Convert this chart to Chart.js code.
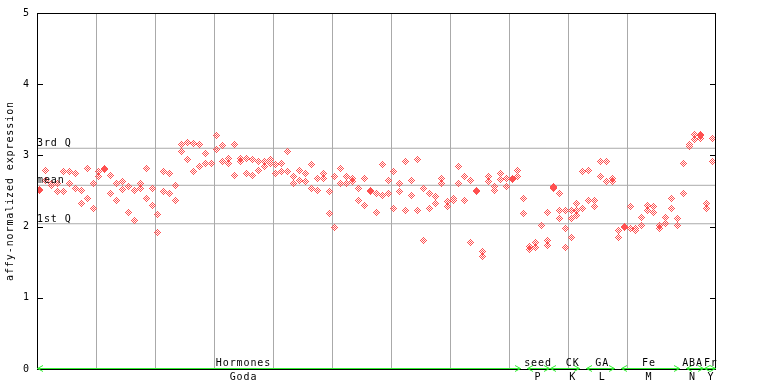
<!DOCTYPE html>
<html>
<head>
<meta charset="utf-8">
<script src="https://cdn.jsdelivr.net/npm/chart.js@4"></script>
<style>
  body { margin: 0; background: #fff; }
  canvas { display: block; }
</style>
</head>
<body>
<canvas id="chart" width="768" height="384"></canvas>
<script>
// 컬럼(샘플)별 반복 측정값
const rep1 = [2.52,2.79,2.61,2.61,2.78,2.77,2.74,2.51,2.82,2.61,
  2.77,2.81,2.72,2.60,2.64,2.56,2.51,2.61,2.81,2.53,
  2.17,2.77,2.74,2.58,3.16,3.18,3.17,3.15,3.03,2.89,
  3.28,3.14,2.96,3.16,2.95,2.96,2.94,2.92,2.92,2.94,
  2.87,2.88,3.05,2.71,2.79,2.74,2.87,2.68,2.74,2.50,
  2.71,2.82,2.70,2.68,2.53,2.67,2.51,2.47,2.87,2.65,
  2.77,2.61,2.92,2.65,2.94,2.54,2.47,2.42,2.68,2.35,
  2.40,2.84,2.70,2.65,2.51,1.65,2.71,2.56,2.74,2.68,
  2.67,2.79,2.40,1.72,1.77,2.01,2.20,2.56,2.47,2.22,
  2.23,2.32,2.77,2.79,2.37,2.91,2.92,2.68,1.94,2.00,
  2.28,1.97,2.13,2.30,2.28,2.02,2.13,2.40,2.11,2.88,
  3.16,3.30,3.29,2.33,3.24];
const rep2 = [2.51,2.65,2.58,2.49,2.49,2.61,2.54,2.33,2.39,2.26,
  2.71,2.80,2.47,2.37,2.52,2.20,2.09,2.54,2.40,2.30,
  1.92,2.49,2.47,2.37,3.05,2.94,2.78,2.84,2.89,2.88,
  3.08,2.91,2.88,2.72,2.92,2.75,2.72,2.79,2.84,2.88,
  2.75,2.77,2.77,2.60,2.65,2.63,2.53,2.51,2.67,2.19,
  1.99,2.61,2.60,2.63,2.36,2.29,2.49,2.20,2.43,2.46,
  2.26,2.49,2.23,2.44,2.22,1.80,2.25,2.32,2.61,2.28,
  2.37,2.60,2.37,1.78,2.49,1.58,2.64,2.51,2.66,2.56,
  2.66,2.71,2.19,1.68,1.70,null,1.80,2.55,2.22,1.97,
  2.12,2.22,2.25,2.36,2.28,2.71,2.63,2.63,1.84,1.99,
  1.98,1.94,2.02,2.22,2.20,1.97,2.04,2.26,2.02,2.47,
  3.13,3.22,3.28,2.26,2.91];
// 세 번째 반복이 있는 컬럼
const extraCols = [34, 70, 86, 87, 88, 89, 90, 91, 112];
const extraVals = [2.91, 2.36, 1.74, 2.53, 2.12, 1.71, 1.84, 2.15, 3.24];

// 사분위/평균 기준선
const refNames = ['3rd Q', 'mean', '1st Q'];
const refValues = [3.10, 2.58, 2.04];

const yTicks = [0, 1, 2, 3, 4, 5];

// 하단 실험 그룹
const groupNames = ['Hormones', 'seed', 'CK', 'GA', 'Fe', 'ABA', 'Fr'];
const groupSubs = ['Goda', 'P', 'K', 'L', 'M', 'N', 'Y'];
const groupFirst = [0, 83, 87, 93, 99, 110, 113];
const groupLast = [81, 86, 91, 97, 108, 112, 114];
const groupLabelAt = [35, 84.9, 90.8, 95.8, 103.7, 111.1, 114.2];

const FONT = '"DejaVu Sans Mono", monospace';
const FONT_SIZE = 10;
const SPACING = '0.9px';
const RED = '#ff5050';
const GREEN = '#33ee33';

// 체크무늬 다이아몬드 마커
function makeMarker(color) {
    const c = document.createElement('canvas');
    c.width = 7; c.height = 7;
    const g = c.getContext('2d');
    g.fillStyle = color;
    for (let dy = -3; dy <= 3; dy++) {
        for (let dx = -3; dx <= 3; dx++) {
            const d = Math.abs(dx) + Math.abs(dy);
            if (d <= 3 && d % 2 === 1) g.fillRect(dx + 3, dy + 3, 1, 1);
        }
    }
    return c;
}

const points = [];
rep1.forEach((v, i) => { if (v != null) points.push({ x: i + 0.5, y: v }); });
rep2.forEach((v, i) => { if (v != null) points.push({ x: i + 0.5, y: v }); });
extraCols.forEach((c, k) => points.push({ x: c + 0.5, y: extraVals[k] }));

const refDatasets = refValues.map((v, k) => ({
    label: refNames[k],
    data: [{ x: 0, y: v }, { x: 114.9, y: v }],
    showLine: true,
    borderColor: '#aaaaaa',
    borderWidth: 1,
    pointRadius: 0,
    order: 2
}));

const framePlugin = {
    id: 'frame',
    beforeDraw(chart) {
        chart.ctx.letterSpacing = SPACING;
    },
    beforeDatasetsDraw(chart) {
        chart.ctx.imageSmoothingEnabled = false;
    },
    afterDraw(chart) {
        const { ctx, chartArea: a, scales: { x, y } } = chart;
        const L = Math.round(a.left), R = Math.round(a.right);
        const T = Math.round(a.top), B = Math.round(a.bottom);
        ctx.save();
        ctx.fillStyle = '#000';
        ctx.fillRect(L, T, 1, B - T + 1);
        ctx.fillRect(R, T, 1, B - T + 1);
        ctx.fillRect(L, T, R - L + 1, 1);
        ctx.fillRect(L, B, R - L + 1, 1);
        yTicks.forEach(v => {
            const p = Math.round(y.getPixelForValue(v));
            ctx.fillRect(L, p, 6, 1);
            ctx.fillRect(R - 5, p, 6, 1);
        });

        // 기준선 라벨
        ctx.font = FONT_SIZE + 'px ' + FONT;
        ctx.letterSpacing = SPACING;
        ctx.textAlign = 'left';
        ctx.textBaseline = 'alphabetic';
        refValues.forEach((v, k) => {
            const p = Math.round(y.getPixelForValue(v));
            ctx.fillText(refNames[k], L, p - 2);
        });

        // 그룹 화살표와 라벨
        ctx.fillStyle = GREEN;
        ctx.strokeStyle = GREEN;
        ctx.lineWidth = 1;
        const gy = B - 1;
        groupNames.forEach((name, k) => {
            const x1 = Math.round(x.getPixelForValue(groupFirst[k] + 0.5)) - 3;
            const x2 = Math.round(x.getPixelForValue(groupLast[k] + 0.5)) + 3;
            ctx.fillRect(x1, gy, x2 - x1, 1);
            ctx.beginPath();
            ctx.moveTo(x1 + 6, gy - 2.5); ctx.lineTo(x1 + 0.5, gy + 0.5); ctx.lineTo(x1 + 6, gy + 3.5);
            ctx.moveTo(x2 - 6, gy - 2.5); ctx.lineTo(x2 - 0.5, gy + 0.5); ctx.lineTo(x2 - 6, gy + 3.5);
            ctx.stroke();
        });
        ctx.fillStyle = '#000';
        ctx.textAlign = 'center';
        groupNames.forEach((name, k) => {
            const cx = x.getPixelForValue(groupLabelAt[k]);
            ctx.fillText(name, cx, B - 3);
            ctx.fillText(groupSubs[k], cx, B + 11);
        });
        ctx.restore();
    }
};

new Chart(document.getElementById('chart'), {
    type: 'scatter',
    data: {
        datasets: [{
            label: 'expression',
            data: points,
            pointStyle: makeMarker(RED),
            pointRadius: 3,
            order: 1
        }, ...refDatasets]
    },
    options: {
        responsive: false,
        devicePixelRatio: 1,
        animation: false,
        events: [],
        layout: { padding: { top: 13, right: 53, bottom: 0, left: 0 } },
        plugins: { legend: { display: false }, tooltip: { enabled: false } },
        scales: {
            x: {
                type: 'linear',
                min: 0,
                max: 114.9,
                afterFit(scale) { scale.height = 15; },
                ticks: { display: false, stepSize: 10 },
                grid: { color: '#aaaaaa', drawTicks: false },
                border: { display: false }
            },
            y: {
                min: 0,
                max: 5,
                afterFit(scale) { scale.width = 37; },
                ticks: {
                    stepSize: 1,
                    padding: 7,
                    color: '#000',
                    font: { family: FONT, size: FONT_SIZE }
                },
                grid: { display: false, drawTicks: false },
                border: { display: false },
                title: {
                    display: true,
                    text: 'affy-normalized expression',
                    color: '#000',
                    font: { family: FONT, size: FONT_SIZE },
                    padding: { top: 4, bottom: 0 }
                }
            }
        }
    },
    plugins: [framePlugin]
});
</script>
</body>
</html>
